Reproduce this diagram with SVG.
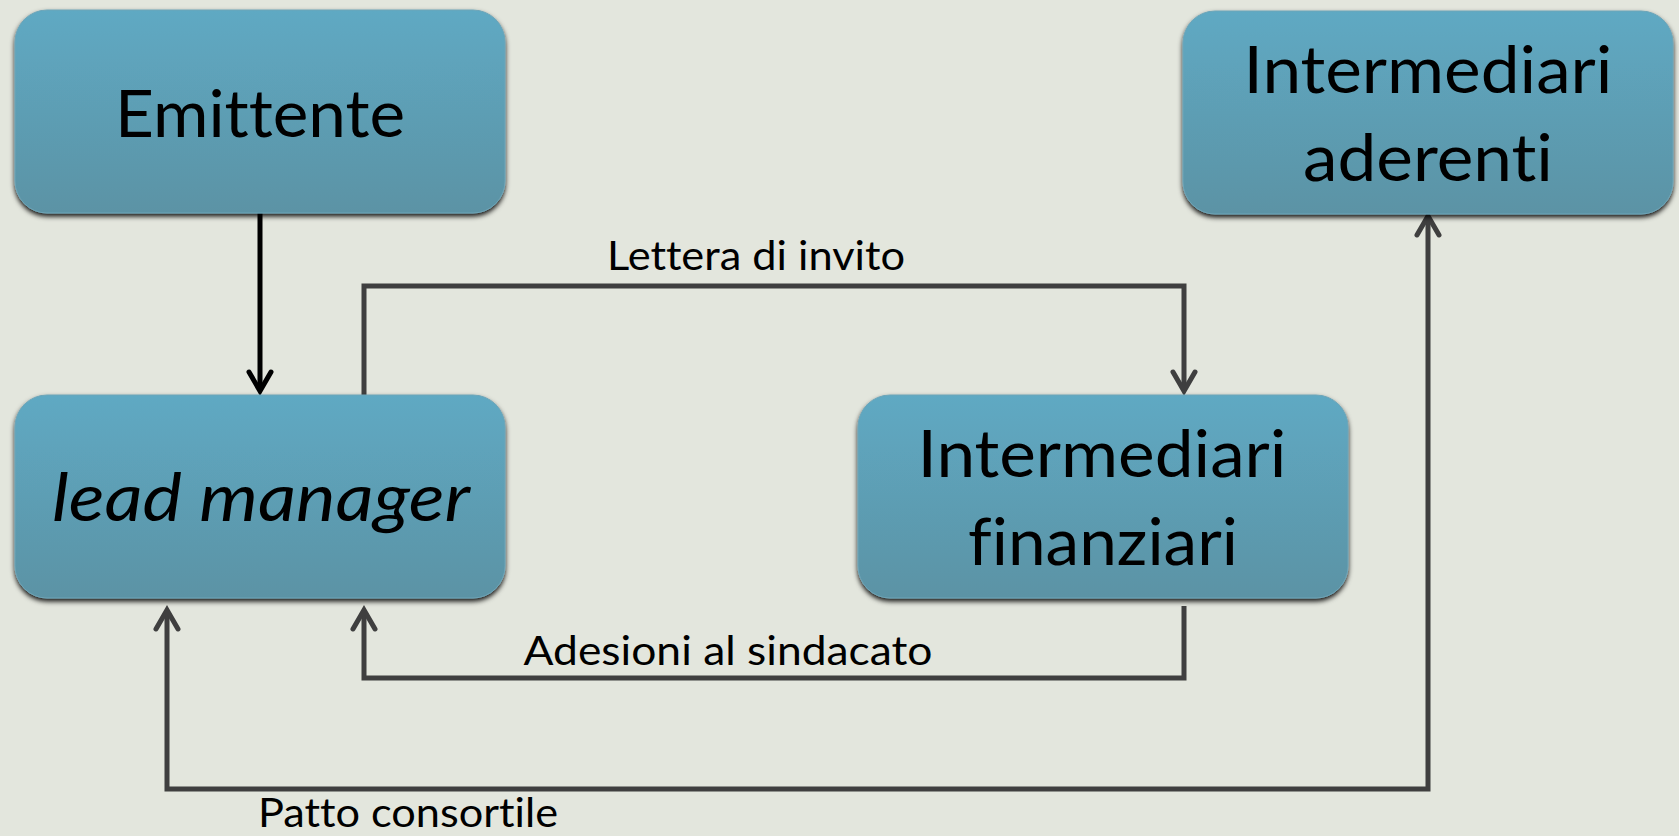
<svg xmlns="http://www.w3.org/2000/svg" width="1679" height="836" viewBox="0 0 1679 836">
<defs>
<linearGradient id="boxg" x1="0" y1="0" x2="0" y2="1">
<stop offset="0" stop-color="#5fa9c3"/>
<stop offset="1" stop-color="#5b93a5"/>
</linearGradient>
<filter id="sh" x="-5%" y="-5%" width="110%" height="115%">
<feDropShadow dx="0" dy="3" stdDeviation="2.5" flood-color="#000" flood-opacity="0.9"/>
</filter>
<marker id="arrG" markerUnits="userSpaceOnUse" viewBox="0 0 26 26" markerWidth="26" markerHeight="26" refX="22" refY="13" orient="auto-start-reverse" overflow="visible">
<path d="M3,2 L22,13 L3,24" fill="none" stroke="#3f3f3f" stroke-width="5" stroke-linecap="round" stroke-linejoin="miter"/>
</marker>
<marker id="arrK" markerUnits="userSpaceOnUse" viewBox="0 0 26 26" markerWidth="26" markerHeight="26" refX="22" refY="13" orient="auto" overflow="visible">
<path d="M3,2 L22,13 L3,24" fill="none" stroke="#000" stroke-width="5" stroke-linecap="round" stroke-linejoin="miter"/>
</marker>
</defs>
<style>
.box{fill:url(#boxg);stroke:#6ea5b8;stroke-width:1;filter:url(#sh)}
.t{font-family:Lato,"Open Sans",sans-serif;font-size:66px;fill:#000;text-anchor:middle;font-variant-ligatures:none;font-feature-settings:"liga" 0,"clig" 0}
.lb{font-family:Lato,"Open Sans",sans-serif;font-size:40px;fill:#000;text-anchor:middle;font-variant-ligatures:none;font-feature-settings:"liga" 0,"clig" 0}
.c{fill:none;stroke:#3f3f3f;stroke-width:5;stroke-linejoin:miter}
</style>
<rect x="0" y="0" width="1679" height="836" fill="#e3e6dd"/>
<g id="connectors">
<path d="M260,213 V391" fill="none" stroke="#000" stroke-width="5" marker-end="url(#arrK)"/>
<path class="c" d="M364,396 V286 H1184 V391" marker-end="url(#arrG)"/>
<path class="c" d="M1184,606 V678 H364 V610" marker-end="url(#arrG)"/>
<path class="c" d="M167,610 V789 H1428 V216" marker-start="url(#arrG)" marker-end="url(#arrG)"/>
<text class="lb" x="756" y="270" textLength="298" lengthAdjust="spacingAndGlyphs">Lettera di invito</text>
<text class="lb" x="728" y="665" textLength="409" lengthAdjust="spacingAndGlyphs">Adesioni al sindacato</text>
<text class="lb" x="408" y="827" textLength="300" lengthAdjust="spacingAndGlyphs">Patto consortile</text>
</g>
<g id="emittente">
<rect class="box" x="15" y="10" width="490" height="203" rx="32"/>
<text class="t" x="260" y="137" textLength="290" lengthAdjust="spacingAndGlyphs">Emittente</text>
</g>
<g id="lead-manager">
<rect class="box" x="15" y="395" width="490" height="203" rx="32"/>
<text class="t" x="261" y="521" font-style="italic" textLength="418" lengthAdjust="spacingAndGlyphs">lead manager</text>
</g>
<g id="intermediari-finanziari">
<rect class="box" x="858" y="395" width="490" height="203" rx="32"/>
<text class="t" x="1102" y="477" textLength="369" lengthAdjust="spacingAndGlyphs">Intermediari</text>
<text class="t" x="1103" y="565" textLength="270" lengthAdjust="spacingAndGlyphs">finanziari</text>
</g>
<g id="intermediari-aderenti">
<rect class="box" x="1183" y="11" width="490" height="203" rx="32"/>
<text class="t" x="1428" y="93" textLength="369" lengthAdjust="spacingAndGlyphs">Intermediari</text>
<text class="t" x="1428" y="181" textLength="250" lengthAdjust="spacingAndGlyphs">aderenti</text>
</g>
</svg>
